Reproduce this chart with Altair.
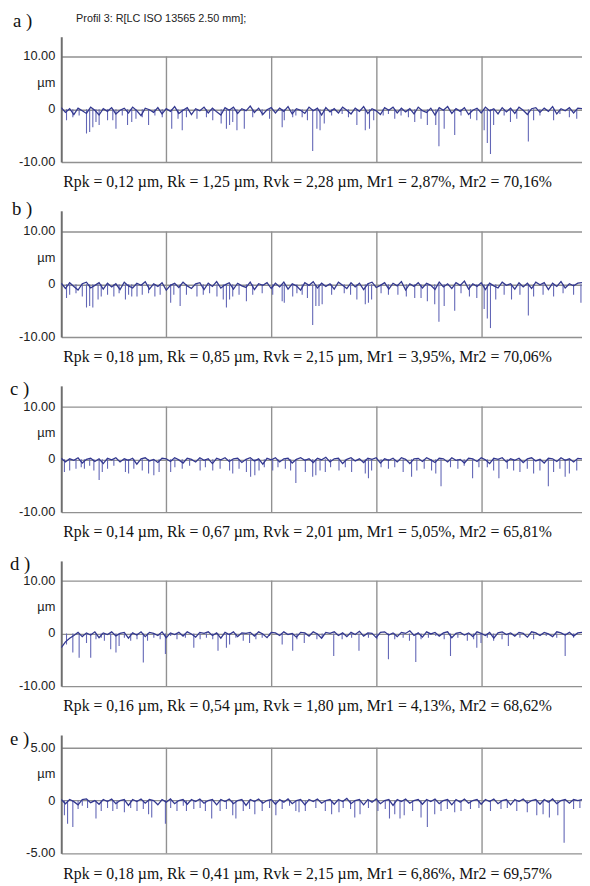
import altair as alt
import pandas as pd

X_END = 4.95
GRID_X = [1, 2, 3, 4]
HEADER = "Profil 3: R[LC ISO 13565 2.50 mm];"

# ---------------- panel a ----------------
A_SPIKE_X = [0.05, 0.11, 0.17, 0.24, 0.27, 0.30, 0.33, 0.36, 0.44, 0.49, 0.52, 0.58, 0.63, 0.67, 0.71,
             0.77, 0.83, 0.89, 0.96, 1.05, 1.11, 1.15, 1.19, 1.29, 1.38, 1.44, 1.52, 1.57, 1.60, 1.63,
             1.67, 1.74, 1.82, 1.91, 1.98, 2.10, 2.12, 2.20, 2.23, 2.29, 2.34, 2.39, 2.43, 2.46, 2.50,
             2.57, 2.67, 2.73, 2.81, 2.89, 2.93, 2.97, 3.06, 3.11, 3.17, 3.23, 3.30, 3.36, 3.42, 3.48,
             3.56, 3.59, 3.64, 3.74, 3.80, 3.89, 3.95, 4.02, 4.05, 4.08, 4.11, 4.21, 4.27, 4.33, 4.44,
             4.49, 4.55, 4.68, 4.74, 4.83, 4.90, 4.96]
A_SPIKE_D = [2.1, 1.5, 1.2, 4.6, 4.3, 3.4, 2.4, 3.0, 2.1, 2.1, 3.7, 1.2, 3.0, 2.4, 1.8,
             1.5, 3.0, 1.2, 1.5, 3.7, 1.8, 4.0, 1.5, 1.8, 1.5, 2.1, 2.7, 3.7, 3.0, 2.4,
             4.0, 3.7, 1.5, 1.2, 1.8, 3.4, 2.1, 1.5, 1.2, 1.5, 2.1, 7.9, 3.7, 4.0, 2.7,
             1.2, 0.9, 1.5, 3.0, 4.0, 3.7, 2.1, 1.2, 0.9, 1.8, 1.2, 1.5, 2.4, 1.8, 3.0,
             3.0, 7.0, 3.7, 4.9, 1.2, 1.8, 2.1, 4.0, 6.4, 8.5, 3.0, 1.2, 2.4, 1.8, 6.1,
             2.1, 1.2, 2.1, 0.9, 1.5, 1.8, 1.5]
A_BASE = [0.3, -0.6, 0.1, -1.0, 0.2, -0.3, -0.8, 0.4, -0.2, -1.1,
          0.1, -0.4, 0.3, -0.9, -0.2, 0.2, -0.7, 0.4, -0.3, -1.2,
          0.2, -0.1, -0.6, 0.3, -0.9, 0.1, -0.4, 0.5, -0.8, -0.2,
          0.3, -1.0, 0.1, -0.3, 0.4, -0.7, 0.2, -0.5, -1.1, 0.3,
          -0.2, 0.4, -0.8, 0.1, -0.3, 0.6, -0.6, 0.2, -1.0, -0.1,
          0.3, -0.7, 0.2, -0.4, 0.5, -0.9, 0.1, -0.2, -0.8, 0.4,
          -0.3, 0.2, -1.1, 0.3, -0.5, 0.1, -0.7, 0.4, -0.2, -0.9,
          0.2, -0.4, 0.5, -0.8, 0.1, -0.3, -1.0, 0.3, -0.2, 0.4,
          -0.7, 0.2, -0.5, 0.1, -0.9, 0.4, -0.3, -0.6, 0.2, -1.1,
          0.3, -0.2, 0.5, -0.8, 0.1, -0.4, 0.3, -1.0, -0.2, 0.2,
          -0.7, 0.4, -0.3, 0.1, -0.9, 0.3, -0.5, 0.2, -0.8, 0.4,
          -0.2, -1.0, 0.1, 0.3, -0.6, 0.2, -0.4, 0.5, -0.9, 0.1,
          -0.3, 0.3, -0.7, 0.2, 0.1]

# ---------------- panel b ----------------
B_SPIKE_X = [0.05, 0.08, 0.14, 0.20, 0.24, 0.27, 0.30, 0.35, 0.38, 0.44, 0.50, 0.55, 0.61, 0.64, 0.67,
             0.72, 0.77, 0.83, 0.89, 0.94, 1.04, 1.07, 1.13, 1.19, 1.29, 1.35, 1.41, 1.48, 1.54, 1.57,
             1.60, 1.63, 1.69, 1.76, 1.82, 1.91, 2.01, 2.10, 2.12, 2.20, 2.24, 2.29, 2.34, 2.39, 2.42,
             2.45, 2.48, 2.57, 2.69, 2.75, 2.81, 2.89, 2.92, 2.95, 3.04, 3.11, 3.20, 3.28, 3.36, 3.42,
             3.48, 3.55, 3.59, 3.64, 3.74, 3.80, 3.88, 3.95, 4.02, 4.05, 4.08, 4.13, 4.21, 4.28, 4.36,
             4.44, 4.49, 4.58, 4.68, 4.77, 4.87, 4.94]
B_SPIKE_D = [2.6, 2.0, 1.7, 2.3, 4.4, 4.1, 4.4, 2.9, 2.3, 2.0, 2.3, 1.7, 2.9, 2.0, 2.3,
             2.3, 2.0, 1.7, 2.3, 2.0, 3.5, 2.0, 4.1, 2.0, 2.3, 2.0, 1.7, 2.3, 2.9, 4.4,
             2.9, 2.3, 2.0, 3.2, 2.0, 1.7, 2.0, 3.2, 3.5, 2.3, 1.7, 2.0, 2.6, 7.7, 4.1,
             4.1, 3.8, 2.0, 1.7, 2.0, 2.9, 3.8, 3.5, 2.9, 1.7, 2.0, 2.0, 2.3, 2.6, 2.6,
             3.2, 3.8, 7.1, 4.1, 5.0, 1.7, 2.3, 2.6, 4.7, 6.5, 8.3, 2.9, 2.0, 2.9, 2.0,
             5.9, 2.3, 2.0, 2.3, 1.7, 2.0, 3.5]
B_BASE = [0.2, -0.8, 0.3, -0.4, -1.1, 0.1, 0.4, -0.7, -0.2, 0.3,
          -0.9, 0.2, -0.5, 0.1, -1.0, 0.4, -0.3, -0.7, 0.2, -0.2,
          0.5, -0.9, 0.1, -0.4, 0.3, -1.1, -0.2, 0.2, -0.6, 0.4,
          -0.3, -0.8, 0.1, 0.3, -1.0, 0.2, -0.4, 0.5, -0.7, -0.1,
          0.3, -0.9, 0.2, -0.3, -0.6, 0.4, -1.0, 0.1, -0.2, 0.3,
          -0.8, 0.2, -0.5, 0.4, -0.9, 0.1, -0.3, -1.1, 0.3, -0.2,
          0.5, -0.7, 0.2, -0.4, 0.1, -0.9, 0.4, -0.2, -0.8, 0.3,
          -0.5, 0.2, -1.0, 0.1, 0.4, -0.6, -0.2, 0.3, -0.9, 0.2,
          -0.3, 0.5, -1.1, 0.1, -0.4, 0.3, -0.7, 0.2, -0.2, -1.0,
          0.4, -0.5, 0.1, -0.8, 0.3, -0.2, 0.6, -0.9, 0.1, -0.4,
          0.3, -1.0, 0.2, -0.3, -0.7, 0.4, -0.2, 0.1, -0.9, 0.3,
          -0.5, 0.2, -0.8, 0.4, -0.1, 0.3, -1.0, 0.2, -0.4, 0.5,
          -0.7, 0.1, -0.3, 0.2, 0.3]

# ---------------- panel c ----------------
C_SPIKE_X = [0.03, 0.08, 0.14, 0.19, 0.22, 0.27, 0.31, 0.36, 0.39, 0.44, 0.50, 0.61, 0.64, 0.69, 0.77,
             0.83, 0.88, 0.93, 1.04, 1.08, 1.15, 1.22, 1.32, 1.37, 1.44, 1.51, 1.60, 1.63, 1.69, 1.76,
             1.80, 1.84, 1.88, 1.93, 2.01, 2.06, 2.13, 2.18, 2.23, 2.32, 2.39, 2.42, 2.46, 2.51, 2.56,
             2.64, 2.70, 2.76, 2.89, 2.92, 2.95, 3.04, 3.11, 3.17, 3.25, 3.33, 3.38, 3.45, 3.52, 3.56,
             3.61, 3.70, 3.77, 3.83, 3.91, 3.97, 4.05, 4.11, 4.16, 4.24, 4.30, 4.36, 4.43, 4.49, 4.55,
             4.63, 4.68, 4.74, 4.79, 4.83, 4.90, 4.96]
C_SPIKE_D = [2.4, 2.1, 1.8, 1.5, 1.8, 1.2, 2.1, 3.9, 2.4, 1.8, 1.2, 2.4, 2.7, 1.8, 2.1,
             2.7, 3.0, 2.4, 2.4, 1.5, 1.8, 1.2, 2.1, 1.5, 2.1, 1.8, 2.1, 2.7, 1.8, 2.4,
             3.3, 3.0, 2.1, 1.5, 2.1, 1.5, 1.8, 2.1, 4.5, 2.4, 3.3, 3.0, 2.1, 2.4, 1.5,
             2.1, 1.5, 2.4, 2.7, 3.6, 2.1, 1.5, 1.8, 1.5, 2.4, 3.3, 2.1, 1.8, 2.1, 2.7,
             5.1, 1.5, 1.8, 1.2, 3.6, 1.5, 1.5, 2.1, 3.6, 1.8, 2.1, 2.4, 1.8, 2.7, 2.1,
             5.1, 2.4, 1.8, 3.3, 2.7, 2.1, 1.2]
C_BASE = [0.2, -0.5, 0.1, -0.2, 0.3, -0.7, 0.0, 0.2, -0.4, 0.1,
          -0.8, 0.2, -0.1, 0.3, -0.5, 0.1, -0.2, 0.2, -0.9, 0.1,
          0.3, -0.3, 0.0, -0.6, 0.2, 0.1, -0.4, 0.3, -0.1, -0.7,
          0.2, 0.0, -0.5, 0.3, -0.2, 0.1, -0.8, 0.2, -0.1, 0.3,
          -0.4, 0.1, 0.2, -0.6, 0.0, 0.3, -0.3, 0.1, -0.9, 0.2,
          -0.1, 0.3, -0.5, 0.1, 0.2, -0.7, 0.0, 0.3, -0.2, 0.1,
          -0.6, 0.2, -0.1, 0.4, -0.5, 0.1, 0.2, -0.8, 0.0, 0.3,
          -0.3, 0.1, -0.6, 0.2, 0.0, 0.3, -0.7, 0.1, -0.2, 0.2,
          -0.5, 0.3, 0.0, -0.8, 0.1, 0.2, -0.4, 0.3, -0.1, -0.6,
          0.2, 0.1, -0.5, 0.3, -0.2, 0.0, -0.7, 0.2, 0.1, -0.4,
          0.3, -0.1, -0.8, 0.2, 0.0, 0.3, -0.5, 0.1, -0.2, 0.2,
          -0.6, 0.1, 0.3, -0.3, 0.0, -0.7, 0.2, 0.1, -0.4, 0.3,
          -0.2, 0.1, -0.5, 0.2, 0.1]

# ---------------- panel d ----------------
D_SPIKE_X = [0.05, 0.11, 0.17, 0.24, 0.28, 0.33, 0.38, 0.41, 0.47, 0.52, 0.55, 0.60, 0.66, 0.72, 0.78,
             0.82, 0.88, 0.94, 0.99, 1.04, 1.10, 1.18, 1.26, 1.32, 1.38, 1.44, 1.49, 1.57, 1.60, 1.66,
             1.73, 1.79, 1.85, 1.91, 1.98, 2.10, 2.20, 2.24, 2.31, 2.43, 2.48, 2.59, 2.67, 2.76, 2.83,
             2.92, 3.00, 3.11, 3.17, 3.25, 3.31, 3.37, 3.42, 3.49, 3.56, 3.64, 3.70, 3.77, 3.86, 3.92,
             3.95, 3.99, 4.05, 4.11, 4.19, 4.25, 4.36, 4.49, 4.61, 4.71, 4.79, 4.87, 4.96]
D_SPIKE_D = [2.1, 3.6, 4.6, 1.8, 4.6, 1.1, 0.8, 1.4, 3.0, 3.6, 2.4, 0.8, 1.4, 1.1, 5.5,
             1.4, 0.8, 1.1, 3.9, 0.5, 1.1, 0.8, 2.7, 1.1, 0.8, 1.1, 3.3, 2.7, 2.1, 0.8,
             1.4, 1.8, 1.1, 0.8, 0.5, 2.1, 3.3, 1.1, 1.8, 1.1, 0.8, 4.3, 1.1, 0.8, 3.3,
             0.8, 1.1, 4.9, 1.1, 0.8, 1.4, 5.4, 1.1, 0.8, 0.5, 1.1, 4.3, 0.8, 1.4, 1.1,
             2.7, 1.8, 0.8, 1.4, 1.1, 2.4, 0.8, 1.1, 0.5, 0.8, 4.3, 0.8, 2.7]
D_BASE = [-2.7, -1.6, -0.9, -0.4, 0.2, -0.6, 0.1, -0.3, 0.3, -0.8,
          0.1, -0.2, 0.3, -0.5, 0.0, 0.2, -0.9, 0.1, -0.3, 0.3,
          -0.6, 0.2, 0.0, -0.4, 0.3, -0.8, 0.1, -0.2, 0.2, -0.5,
          0.3, -0.1, -0.7, 0.2, 0.0, 0.3, -0.4, 0.1, -0.9, 0.2,
          -0.2, 0.3, -0.6, 0.1, 0.0, 0.2, -0.5, 0.3, -0.1, -0.8,
          0.2, 0.1, -0.4, 0.3, -0.2, 0.0, -0.7, 0.2, 0.1, -0.5,
          0.3, -0.1, -0.9, 0.2, 0.0, 0.3, -0.4, 0.1, -0.6, 0.2,
          -0.2, 0.4, -0.5, 0.1, 0.0, -0.8, 0.2, 0.3, -0.3, 0.1,
          -0.6, 0.2, 0.0, 0.5, -0.4, 0.1, -0.7, 0.3, -0.1, 0.2,
          -0.5, 0.1, 0.3, -0.8, 0.0, 0.2, -0.3, 0.1, -0.6, 0.3,
          0.0, -0.4, 0.2, -0.9, 0.1, 0.3, -0.2, 0.1, -0.5, 0.2,
          0.0, -0.7, 0.3, 0.1, -0.4, 0.2, -0.1, -0.6, 0.3, 0.1,
          -0.3, 0.2, -0.5, 0.1, 0.2]

# ---------------- panel e ----------------
E_SPIKE_X = [0.03, 0.06, 0.11, 0.16, 0.20, 0.25, 0.33, 0.38, 0.44, 0.49, 0.53, 0.60, 0.66, 0.72, 0.78,
             0.83, 0.86, 0.99, 1.04, 1.10, 1.16, 1.19, 1.26, 1.32, 1.37, 1.43, 1.51, 1.57, 1.63, 1.66,
             1.73, 1.79, 1.84, 1.91, 1.98, 2.04, 2.10, 2.17, 2.23, 2.26, 2.32, 2.42, 2.51, 2.57, 2.64,
             2.68, 2.75, 2.79, 2.84, 2.92, 3.01, 3.08, 3.12, 3.17, 3.22, 3.26, 3.34, 3.42, 3.48, 3.55,
             3.61, 3.67, 3.74, 3.80, 3.89, 3.97, 4.08, 4.18, 4.24, 4.33, 4.43, 4.52, 4.58, 4.64, 4.72,
             4.78, 4.87, 4.93]
E_SPIKE_D = [1.4, 2.2, 2.5, 0.8, 0.5, 0.7, 1.7, 1.0, 0.7, 1.0, 0.8, 1.1, 0.7, 1.0, 0.8,
             1.3, 1.6, 2.2, 0.7, 1.0, 0.5, 1.0, 0.8, 0.7, 1.0, 1.7, 1.0, 0.8, 1.4, 1.7,
             1.0, 0.8, 1.3, 1.0, 0.7, 1.4, 0.8, 0.5, 1.0, 1.1, 1.0, 0.7, 1.0, 1.3, 1.1,
             0.7, 0.8, 1.6, 1.3, 0.7, 1.0, 0.8, 1.7, 1.3, 1.7, 1.4, 1.0, 1.6, 2.5, 1.3,
             1.0, 0.8, 1.1, 1.0, 0.8, 0.7, 1.0, 0.8, 0.7, 1.0, 1.1, 1.4, 1.3, 1.6, 1.4,
             4.0, 0.8, 0.7]
E_BASE = [0.1, -0.3, 0.1, -0.1, -0.4, 0.1, 0.15, -0.2, 0.0, -0.35,
          0.1, -0.1, 0.15, -0.3, 0.0, 0.1, -0.45, 0.1, -0.1, 0.15,
          -0.25, 0.1, 0.0, -0.4, 0.1, -0.15, 0.15, -0.3, 0.0, 0.1,
          -0.35, 0.1, -0.1, 0.15, -0.25, 0.0, 0.1, -0.4, 0.1, -0.1,
          0.15, -0.3, 0.0, 0.1, -0.45, 0.1, -0.1, 0.15, -0.25, 0.0,
          0.1, -0.35, 0.1, -0.15, 0.15, -0.3, 0.0, 0.1, -0.4, 0.1,
          -0.1, 0.15, -0.25, 0.0, 0.1, -0.35, 0.1, -0.1, 0.2, -0.3,
          0.0, 0.1, -0.4, 0.1, -0.15, 0.15, -0.3, 0.0, 0.1, -0.45,
          0.1, -0.1, 0.15, -0.25, 0.0, 0.1, -0.35, 0.1, -0.1, 0.15,
          -0.3, 0.0, 0.1, -0.4, 0.1, -0.15, 0.15, -0.25, 0.0, 0.1,
          -0.35, 0.1, -0.1, 0.15, -0.3, 0.0, 0.1, -0.4, 0.1, -0.1,
          0.15, -0.25, 0.0, 0.1, -0.35, 0.1, -0.15, 0.15, -0.3, 0.0,
          0.1, -0.25, 0.1, 0.0, 0.1]

CAPTIONS = [
    "Rpk = 0,12 µm, Rk = 1,25 µm, Rvk = 2,28 µm, Mr1 = 2,87%, Mr2 = 70,16%",
    "Rpk = 0,18 µm, Rk = 0,85 µm, Rvk = 2,15 µm, Mr1 = 3,95%, Mr2 = 70,06%",
    "Rpk = 0,14 µm, Rk = 0,67 µm, Rvk = 2,01 µm, Mr1 = 5,05%, Mr2 = 65,81%",
    "Rpk = 0,16 µm, Rk = 0,54 µm, Rvk = 1,80 µm, Mr1 = 4,13%, Mr2 = 68,62%",
    "Rpk = 0,18 µm, Rk = 0,41 µm, Rvk = 2,15 µm, Mr1 = 6,86%, Mr2 = 69,57%",
]
TAGS = ["a )", "b )", "c )", "d )", "e )"]
TICKS_10 = [10, 5, 0, -5, -10]
LABELS_10 = ["10.00", "µm", "0", "", "-10.00"]
TICKS_5 = [5, 2.5, 0, -2.5, -5]
LABELS_5 = ["5.00", "µm", "0", "", "-5.00"]

W = 528
LINE_COL = "#33388f"
SPIKE_COL = "#6266b6"
GRID_COL = "#919191"
SERIF = "Liberation Serif"
SANS = "Liberation Sans"

panels_def = [
    dict(sx=A_SPIKE_X, sd=A_SPIKE_D, base=A_BASE, dom=[-10, 13.74], h=127, ticks=TICKS_10, labels=LABELS_10,
         gtop=10, tag_x=-49, tag_y=-16),
    dict(sx=B_SPIKE_X, sd=B_SPIKE_D, base=B_BASE, dom=[-10, 13.93], h=128, ticks=TICKS_10, labels=LABELS_10,
         gtop=10, tag_x=-50, tag_y=-2),
    dict(sx=C_SPIKE_X, sd=C_SPIKE_D, base=C_BASE, dom=[-10, 13.93], h=128, ticks=TICKS_10, labels=LABELS_10,
         gtop=10, tag_x=-52, tag_y=3),
    dict(sx=D_SPIKE_X, sd=D_SPIKE_D, base=D_BASE, dom=[-10, 13.74], h=127, ticks=TICKS_10, labels=LABELS_10,
         gtop=10, tag_x=-52, tag_y=3),
    dict(sx=E_SPIKE_X, sd=E_SPIKE_D, base=E_BASE, dom=[-5, 6.21], h=120, ticks=TICKS_5, labels=LABELS_5,
         gtop=5, tag_x=-52, tag_y=4),
]


def text_layer(txt, x, y, size, font, color="#111", weight="normal"):
    return alt.Chart(pd.DataFrame({"t": [txt]})).mark_text(
        align="left", baseline="middle", fontSize=size, font=font, color=color, fontWeight=weight
    ).encode(x=alt.value(x), y=alt.value(y), text="t:N")


panels = []
for i, p in enumerate(panels_def):
    xs = alt.Scale(domain=[0, X_END], nice=False, zero=False)
    ys = alt.Scale(domain=p["dom"], nice=False, zero=False)
    n = len(p["base"])
    base_df = pd.DataFrame({"x": [X_END * k / (n - 1) for k in range(n)], "z": p["base"]})
    spike_df = pd.DataFrame({"x": p["sx"], "z": [-d for d in p["sd"]], "top": [0.0] * len(p["sx"])})
    grid_df = pd.DataFrame({"x": GRID_X})
    lab_df = pd.DataFrame({"v": p["ticks"], "lab": p["labels"]})

    y_axis = alt.Axis(values=p["ticks"], labels=False, title=None,
                      grid=True, ticks=False, domain=True,
                      domainColor="#6e6e6e", domainWidth=2, gridColor=GRID_COL, gridWidth=1.4)
    x_axis = alt.Axis(labels=False, ticks=False, domain=False, grid=False, title=None)

    vgrid = alt.Chart(grid_df).mark_rule(color=GRID_COL, strokeWidth=1.4).encode(
        x=alt.X("x:Q", scale=xs, axis=x_axis),
        y=alt.Y(datum=p["gtop"], scale=ys, axis=y_axis),
        y2=alt.Y2(datum=-p["gtop"]),
    )
    ylabels = alt.Chart(lab_df).mark_text(
        align="right", baseline="middle", fontSize=13, font=SANS, color="#222"
    ).encode(
        x=alt.value(-6),
        y=alt.Y("v:Q", scale=ys),
        text="lab:N",
    )
    spikes = alt.Chart(spike_df).mark_rule(color=SPIKE_COL, strokeWidth=1.1, clip=True).encode(
        x=alt.X("x:Q", scale=xs),
        y=alt.Y("z:Q", scale=ys),
        y2="top:Q",
    )
    line = alt.Chart(base_df).mark_line(color=LINE_COL, strokeWidth=1.3, clip=True).encode(
        x=alt.X("x:Q", scale=xs),
        y=alt.Y("z:Q", scale=ys),
    )
    layers = [vgrid, ylabels, spikes, line,
              text_layer(TAGS[i], p["tag_x"], p["tag_y"], 19, SERIF),
              text_layer(CAPTIONS[i], 2, p["h"] + 20.5, 16, SERIF)]
    if i == 0:
        layers.append(text_layer(HEADER, 15, -18, 11, SANS, color="#222"))
    panels.append(alt.layer(*layers).properties(width=W, height=p["h"]))

chart = alt.vconcat(*panels, spacing=49.5, bounds="flush", background="white",
                    padding={"left": 2, "top": -2, "right": 0, "bottom": 0}).configure_view(
    stroke=None
)

chart.save("out.html", embed_options={"renderer": "svg", "actions": False})
